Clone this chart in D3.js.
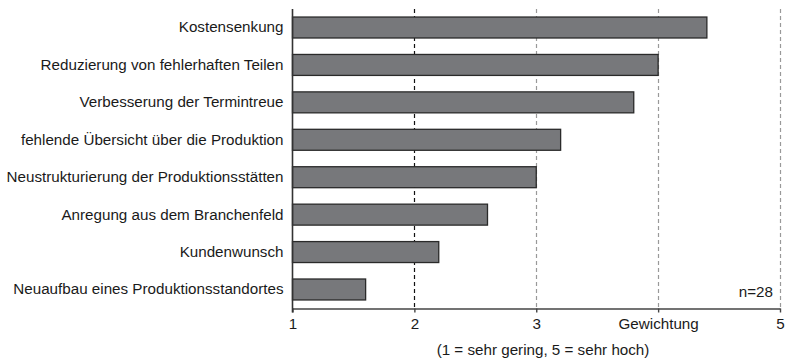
<!DOCTYPE html>
<html><head><meta charset="utf-8">
<script src="https://cdn.jsdelivr.net/npm/d3@7"></script>
<style>body{margin:0;background:#fff;} text{font-family:"Liberation Sans",Arial,sans-serif;}</style>
</head><body>
<svg id="c" width="785" height="361"></svg>
<script>
const categories = [
  "Kostensenkung",
  "Reduzierung von fehlerhaften Teilen",
  "Verbesserung der Termintreue",
  "fehlende Übersicht über die Produktion",
  "Neustrukturierung der Produktionsstätten",
  "Anregung aus dem Branchenfeld",
  "Kundenwunsch",
  "Neuaufbau eines Produktionsstandortes"
];
const values = [4.4, 4.0, 3.8, 3.2, 3.0, 2.6, 2.2, 1.6];
const tickValues = [1, 2, 3, 4, 5];
const tickLabels = ["1", "2", "3", "Gewichtung", "5"];
const noteText = "n=28";
const subtitle = "(1 = sehr gering, 5 = sehr hoch)";

const FS = "15.2px";
const svg = d3.select("#c");
const x = d3.scaleLinear().domain([1, 5]).range([292.5, 780]);
const y = d3.scaleBand().domain(categories).range([8.8, 308.2]).paddingInner(0.44).paddingOuter(0.22);
const axisY = 308.5;

// gridlines
svg.append("g").selectAll("line").data(tickValues.slice(1)).join("line")
  .attr("x1", d => Math.round(x(d)) + 0.5).attr("x2", d => Math.round(x(d)) + 0.5)
  .attr("y1", 9).attr("y2", axisY)
  .attr("stroke", d => d === 2 ? "#111" : "#999")
  .attr("stroke-width", 1.2)
  .attr("stroke-dasharray", "4,3");

// bars
svg.append("g").selectAll("rect").data(values).join("rect")
  .attr("x", x(1))
  .attr("y", (d, i) => y(categories[i]))
  .attr("width", d => x(d) - x(1))
  .attr("height", y.bandwidth())
  .attr("fill", "#77787b")
  .attr("stroke", "#2a2a2a")
  .attr("stroke-width", 1.3);

// x axis
const xAxis = d3.axisBottom(x).tickValues(tickValues)
  .tickFormat((d, i) => tickLabels[i]).tickSizeInner(4).tickSizeOuter(0).tickPadding(6);
const gx = svg.append("g").attr("transform", `translate(0,${axisY})`).call(xAxis);
gx.select(".domain").attr("stroke", "#444").attr("stroke-width", 1.6);
gx.selectAll(".tick line").attr("stroke", "#444").attr("stroke-width", 1.4);
gx.selectAll(".tick text").attr("fill", "#1a1a1a").style("font-size", FS)
  .style("font-family", '"Liberation Sans",Arial,sans-serif');

// y axis
const yAxis = d3.axisLeft(y).tickSize(0).tickPadding(9);
const gy = svg.append("g").attr("transform", `translate(${x(1)},0)`).call(yAxis);
gy.select(".domain").remove();
svg.append("line").attr("x1", x(1)).attr("x2", x(1)).attr("y1", 9).attr("y2", axisY + 4)
  .attr("stroke", "#333").attr("stroke-width", 1.6);
gy.selectAll(".tick text").attr("fill", "#1a1a1a").style("font-size", FS)
  .style("font-family", '"Liberation Sans",Arial,sans-serif');

// note
svg.append("text").attr("x", 773).attr("y", 297).attr("text-anchor", "end")
  .attr("fill", "#1a1a1a").style("font-size", FS).text(noteText);

// subtitle
svg.append("text").attr("x", 543).attr("y", 355).attr("text-anchor", "middle")
  .attr("fill", "#1a1a1a").style("font-size", FS).text(subtitle);
</script>
</body></html>
